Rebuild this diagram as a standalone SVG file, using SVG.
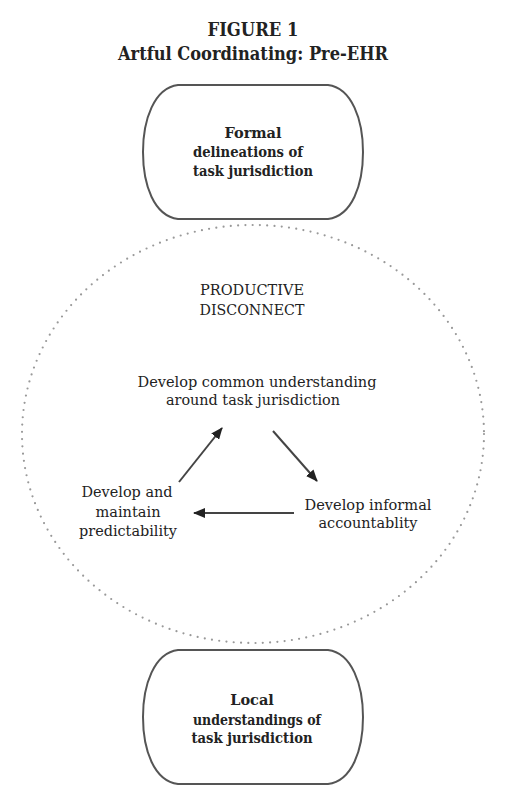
<svg xmlns="http://www.w3.org/2000/svg" width="505" height="807" viewBox="0 0 505 807">
<style>
.t{font-family:"DejaVu Serif","Liberation Serif",serif;fill:#222;text-anchor:middle}
.b{font-weight:bold;font-size:14.5px}
.r{font-size:15px}
.box{fill:#fff;stroke:#555;stroke-width:2}
.arr{stroke:#444;stroke-width:2;fill:none;marker-end:url(#ah)}
</style>
<defs>
<marker id="ah" viewBox="0 0 12 10" refX="11" refY="5" markerWidth="12" markerHeight="10" markerUnits="userSpaceOnUse" orient="auto">
<path d="M0,0 L12,5 L0,10 Z" fill="#222"/>
</marker>
<path id="shape" d="M178,0 L328,0 C352,3 363,35 363,67 C363,100 352,131 328,134 L178,134 C154,131 143,100 143,67 C143,35 154,3 178,0 Z"/>
</defs>
<rect width="505" height="807" fill="#fff"/>
<g id="title">
<text class="t" x="253" y="36" font-weight="bold" font-size="19" textLength="91" lengthAdjust="spacingAndGlyphs">FIGURE 1</text>
<text class="t" x="253" y="60" font-weight="bold" font-size="19" textLength="270" lengthAdjust="spacingAndGlyphs">Artful Coordinating: Pre-EHR</text>
</g>
<g id="disconnect">
<ellipse cx="253" cy="434" rx="231" ry="209" fill="none" stroke="#999" stroke-width="2.2" stroke-dasharray="0 7.3" stroke-linecap="round"/>
<text class="t r" x="252" y="295" textLength="104" lengthAdjust="spacingAndGlyphs">PRODUCTIVE</text>
<text class="t r" x="252" y="315" textLength="105" lengthAdjust="spacingAndGlyphs">DISCONNECT</text>
</g>
<g id="formal">
<use href="#shape" class="box" transform="translate(0,85)"/>
<text class="t b" x="253" y="138">Formal</text>
<text class="t b" x="248" y="157" textLength="110" lengthAdjust="spacingAndGlyphs">delineations of</text>
<text class="t b" x="253" y="176" textLength="120" lengthAdjust="spacingAndGlyphs">task jurisdiction</text>
</g>
<g id="local">
<use href="#shape" class="box" transform="translate(0,650)"/>
<text class="t b" x="252" y="705">Local</text>
<text class="t b" x="257" y="725" textLength="128" lengthAdjust="spacingAndGlyphs">understandings of</text>
<text class="t b" x="252" y="743" textLength="121" lengthAdjust="spacingAndGlyphs">task jurisdiction</text>
</g>
<g id="common">
<text class="t r" x="257" y="387" textLength="239" lengthAdjust="spacingAndGlyphs">Develop common understanding</text>
<text class="t r" x="253" y="405" textLength="174" lengthAdjust="spacingAndGlyphs">around task jurisdiction</text>
</g>
<g id="accountability">
<text class="t r" x="368" y="510" textLength="127" lengthAdjust="spacingAndGlyphs">Develop informal</text>
<text class="t r" x="368" y="528" textLength="99" lengthAdjust="spacingAndGlyphs">accountablity</text>
</g>
<g id="predictability">
<text class="t r" x="127" y="497" textLength="91" lengthAdjust="spacingAndGlyphs">Develop and</text>
<text class="t r" x="128" y="517" textLength="65" lengthAdjust="spacingAndGlyphs">maintain</text>
<text class="t r" x="128" y="536" textLength="98" lengthAdjust="spacingAndGlyphs">predictability</text>
</g>
<g id="connectors">
<line class="arr" x1="179" y1="482" x2="222" y2="428"/>
<line class="arr" x1="273" y1="431" x2="317" y2="481"/>
<line class="arr" x1="294" y1="513" x2="194" y2="513"/>
</g>
</svg>
